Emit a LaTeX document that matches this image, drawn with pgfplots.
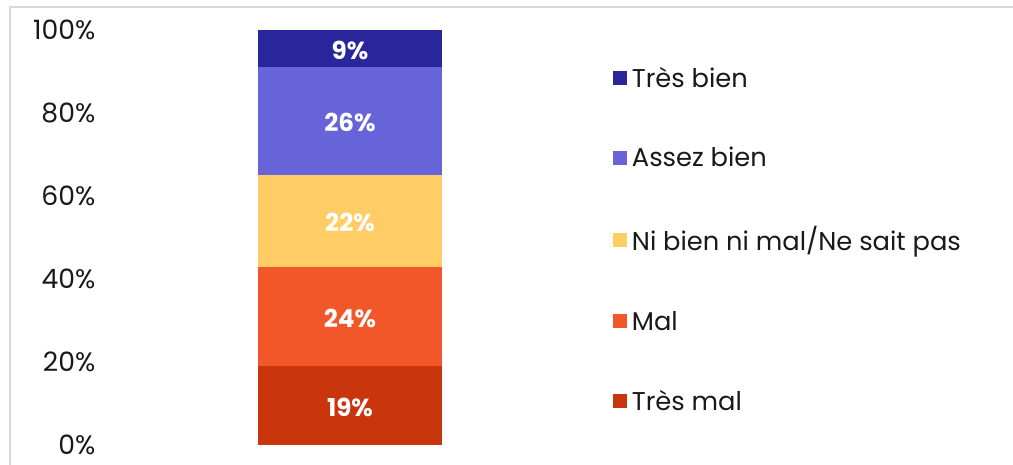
\documentclass[border=0pt]{standalone}
\usepackage{fontspec}
\setmainfont{Poppins}
\usepackage{pgfplots}
\pgfplotsset{compat=1.18}
\definecolor{tresbien}{HTML}{29259B}
\definecolor{assezbien}{HTML}{6764DA}
\definecolor{nibien}{HTML}{FFCC66}
\definecolor{mal}{HTML}{F2572A}
\definecolor{tresmal}{HTML}{C9360E}
\definecolor{framegray}{HTML}{D9D9D9}
\begin{document}
\begin{tikzpicture}[x=0.75pt,y=0.75pt]
\useasboundingbox (0,0) rectangle (1013,464);
\begin{scope}
\clip (0,0) rectangle (1013,464);
\draw[framegray, line width=1.5pt] (10,-20) -- (10,457) -- (1040,457);
\end{scope}
\begin{axis}[
  at={(75pt,14.25pt)}, anchor=south west,
  width=375pt, height=311.25pt, scale only axis,
  ybar stacked, bar width=138pt,
  xmin=-1, xmax=1, ymin=0, ymax=100,
  xtick=\empty,
  ytick={0,20,...,100},
  yticklabel={\pgfmathprintnumber{\tick}\%},
  /pgf/number format/assume math mode=true,
  axis line style={draw=none},
  major tick length=0pt,
  yticklabel style={font=\fontsize{20}{24}\selectfont, text=black!90},
  clip=false,
  point meta=explicit symbolic,
  nodes near coords={\pgfplotspointmeta\%},
  every node near coord/.append style={font=\fontsize{18.5}{22}\selectfont\bfseries, text=white, anchor=center, yshift=-1.2pt},
  legend style={at={(1.018,0.495)}, anchor=west, draw=none, fill=none,
    font=\fontsize{19.3}{22}\selectfont, row sep=39.5pt, text=black!90},
  legend cell align=left,
  reverse legend,
  legend image code/.code={\fill[#1] (0pt,-5.25pt) rectangle (10.5pt,5.25pt); \path (12pt,0pt);},
]
\addplot[fill=tresmal, draw=none] coordinates {(0,19) [19]};
\addlegendentry{Très mal}
\addplot[fill=mal, draw=none] coordinates {(0,24) [24]};
\addlegendentry{Mal}
\addplot[fill=nibien, draw=none] coordinates {(0,22) [22]};
\addlegendentry{Ni bien ni mal/Ne sait pas}
\addplot[fill=assezbien, draw=none] coordinates {(0,26) [26]};
\addlegendentry{Assez bien}
\addplot[fill=tresbien, draw=none] coordinates {(0,9) [9]};
\addlegendentry{Très bien}
\end{axis}
\end{tikzpicture}
\end{document}
